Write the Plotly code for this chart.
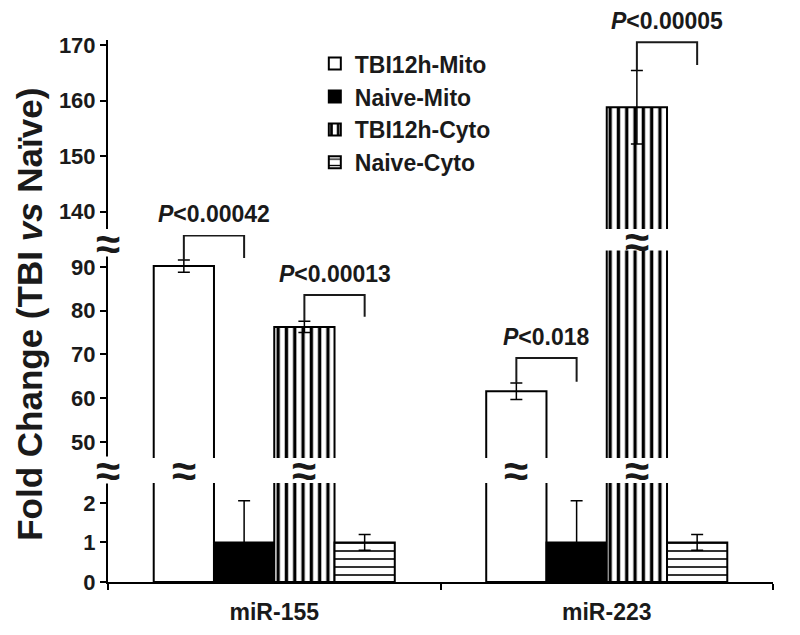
import plotly.graph_objects as go

# ---------------- data ----------------
categories = ["miR-155", "miR-223"]
series_names = ["TBI12h-Mito", "Naive-Mito", "TBI12h-Cyto", "Naive-Cyto"]

tbi_mito = [90.2, 61.6]
tbi_mito_err = [1.4, 1.9]
naive_mito = [1.0, 1.0]
naive_mito_err = [1.05, 1.05]
tbi_cyto = [76.3, 158.8]
tbi_cyto_err = [1.3, 6.6]
naive_cyto = [1.0, 1.0]
naive_cyto_err = [0.2, 0.2]

p_values = ["0.00042", "0.00013", "0.018", "0.00005"]

# ---------------- layout config ----------------
FONT = "Liberation Sans, Arial, Helvetica, sans-serif"
TXT = "#1a1a1a"
BARGAP = 0.275
BAR_W = (1 - BARGAP) / 4

# page offset (browser body margin) compensated in figure size/margins
PAGE_OFF = 8
PLOT_TOP_PX, PLOT_BOTTOM_PX = 40, 582  # window pixel rows of plot area

values = [tbi_mito, naive_mito, tbi_cyto, naive_cyto]
errors = [tbi_mito_err, naive_mito_err, tbi_cyto_err, naive_cyto_err]
styles = [
    dict(color="white", pattern=None),
    dict(color="black", pattern=None),
    dict(color="white", pattern=dict(shape="|", fgcolor="black", bgcolor="white",
                                     size=8.3, solidity=0.4, fillmode="replace")),
    dict(color="white", pattern=dict(shape="-", fgcolor="black", bgcolor="white",
                                     size=8, solidity=0.2, fillmode="replace")),
]

# broken-axis segments (bottom, middle, top)
segments = [
    dict(axis="y", range=[0, 2.5], domain=[0.0, 0.18266], tickvals=[0, 1, 2]),
    dict(axis="y2", range=[46.35, 97.3], domain=[0.22878, 0.64022], tickvals=[50, 60, 70, 80, 90]),
    dict(axis="y3", range=[136.9, 170.9], domain=[0.65129, 1.0], tickvals=[140, 150, 160, 170]),
]

# significance brackets: (category idx, left series, right series, segment idx, level, drop end)
brackets = [
    (0, 0, 1, 1, 97.2, 92.05),
    (0, 2, 3, 1, 83.6, 78.6),
    (1, 0, 1, 1, 69.2, 63.75),
    (1, 2, 3, 2, 170.5, 166.4),
]


def bar_x(cat, s):
    return cat + (s - 1.5) * BAR_W


def paper_from_px(py):
    return (PLOT_BOTTOM_PX - py) / (PLOT_BOTTOM_PX - PLOT_TOP_PX)


fig = go.Figure()
for si, seg in enumerate(segments):
    for k, name in enumerate(series_names):
        st = styles[k]
        marker = dict(color=st["color"], line=dict(color="black", width=2))
        if st["pattern"]:
            marker["pattern"] = st["pattern"]
        fig.add_trace(go.Bar(
            x=categories, y=values[k], name=name,
            xaxis="x", yaxis=seg["axis"],
            marker=marker,
            error_y=dict(type="data", array=errors[k], color="black", thickness=1.5, width=6),
            legendgroup=name, showlegend=(si == 0),
        ))

shapes = []
annotations = []
for (cat, a, b, seg_i, level, drop) in brackets:
    yref = segments[seg_i]["axis"]
    xa, xb = bar_x(cat, a), bar_x(cat, b)
    start = values[a][cat] + errors[a][cat]
    shapes.append(dict(type="path", xref="x", yref=yref,
                       path=f"M {xa},{start} L {xa},{level} L {xb},{level} L {xb},{drop}",
                       line=dict(color=TXT, width=2)))
for (cat, a, b, seg_i, level, drop), p in zip(brackets, p_values):
    yref = segments[seg_i]["axis"]
    annotations.append(dict(
        xref="x", yref=yref, x=(bar_x(cat, a) + bar_x(cat, b)) / 2, y=level,
        text=f"<i>P</i>&lt;{p}", showarrow=False, yanchor="middle", yshift=21,
        font=dict(family=FONT, size=23, color=TXT, weight="bold"),
    ))

# break marks
low_gap = paper_from_px(470)
high_gap = paper_from_px(243)
BRK = "\u2248"
brk_font = dict(family=FONT, size=44, color=TXT, weight="bold")
for yy in (low_gap, high_gap):
    annotations.append(dict(xref="paper", yref="paper", x=0, y=yy, text=" ", showarrow=False,
                            bgcolor="white", width=16, height=26, borderpad=0,
                            xanchor="center", yanchor="middle"))
    annotations.append(dict(xref="paper", yref="paper", x=0, y=yy, text=BRK, showarrow=False,
                            xanchor="center", yanchor="middle", font=brk_font))
for k in range(4):
    for cat in range(len(categories)):
        v = values[k][cat]
        if v > segments[0]["range"][1]:
            annotations.append(dict(xref="x", yref="paper", x=bar_x(cat, k), y=low_gap, text=BRK,
                                    showarrow=False, xanchor="center", yanchor="middle", font=brk_font))
        if v > segments[1]["range"][1]:
            annotations.append(dict(xref="x", yref="paper", x=bar_x(cat, k), y=paper_from_px(242),
                                    text=" ", showarrow=False, bgcolor="white", width=66, height=16,
                                    borderpad=0, xanchor="center", yanchor="middle"))
            annotations.append(dict(xref="x", yref="paper", x=bar_x(cat, k), y=paper_from_px(242),
                                    text=BRK, showarrow=False, xanchor="center", yanchor="middle",
                                    font=brk_font))

# y title
annotations.append(dict(xref="paper", yref="paper", x=-0.118, y=0.494,
                        text="Fold Change (TBI <i>vs</i> Naïve)", textangle=-90, showarrow=False,
                        xanchor="center", yanchor="middle",
                        font=dict(family=FONT, size=35, color=TXT, weight="bold")))

ytickfont = dict(family=FONT, size=22, color=TXT, weight="bold")
xtickfont = dict(family=FONT, size=23, color=TXT, weight="bold")
layout = dict(
    width=800 - PAGE_OFF, height=635 - 2 * PAGE_OFF,
    margin=dict(l=108 - PAGE_OFF, r=27, t=PLOT_TOP_PX - PAGE_OFF,
                b=(635 - PAGE_OFF) - PLOT_BOTTOM_PX),
    paper_bgcolor="white", plot_bgcolor="white",
    barmode="group", bargap=BARGAP, bargroupgap=0,
    font=dict(family=FONT, color=TXT, weight="bold"),
    showlegend=True,
    legend=dict(x=0.311, y=0.996, xanchor="left", yanchor="top",
                font=dict(family=FONT, size=23, color=TXT, weight="bold"),
                bgcolor="rgba(0,0,0,0)", tracegroupgap=0, traceorder="normal"),
    xaxis=dict(type="category", range=[-0.5, 1.5], anchor="y", automargin=False,
               showline=True, linecolor="black", linewidth=2,
               ticks="outside", tickson="boundaries", ticklen=6, tickwidth=2, tickcolor="black",
               ticklabelstandoff=8,
               tickfont=xtickfont, showgrid=False, zeroline=False),
    shapes=shapes,
    annotations=annotations,
)
for i, seg in enumerate(segments):
    key = "yaxis" if i == 0 else f"yaxis{i + 1}"
    layout[key] = dict(range=seg["range"], domain=seg["domain"], anchor="x", automargin=False,
                       tickmode="array", tickvals=seg["tickvals"],
                       showline=True, linecolor="black", linewidth=2,
                       ticks="outside", ticklen=6, tickwidth=2, tickcolor="black",
                       tickfont=ytickfont, showgrid=False, zeroline=False)

fig.update_layout(**layout)
fig.write_html("out.html")
